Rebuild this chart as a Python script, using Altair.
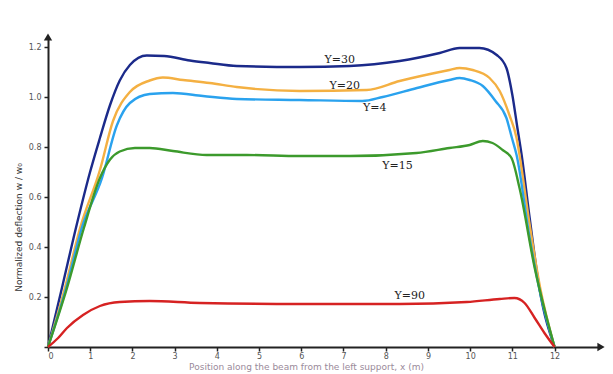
import altair as alt
import pandas as pd

# ---- data ----
series_names = ["Y=30", "Y=20", "Y=4", "Y=15", "Y=90"]
series_colors = ["#1b2a8a", "#f4b042", "#2aa2ee", "#3c9a2c", "#d62222"]

navy_x = [0, 0.33, 0.69, 0.99, 1.23, 1.47, 1.70, 1.94, 2.34, 2.75, 3.36, 3.83, 4.47, 5.96, 7.15, 8.33, 9.28, 9.75, 10.22, 10.63, 10.86, 11.0, 11.12, 11.22, 11.41, 11.64, 12]
navy_y = [0, 0.236, 0.496, 0.696, 0.836, 0.968, 1.066, 1.128, 1.166, 1.164, 1.146, 1.136, 1.124, 1.12, 1.124, 1.144, 1.176, 1.196, 1.196, 1.168, 1.116, 1.008, 0.876, 0.768, 0.516, 0.236, 0]

orange_x = [0, 0.40, 0.76, 1.23, 1.54, 1.94, 2.41, 2.72, 3.20, 3.83, 4.47, 5.96, 7.55, 8.33, 9.51, 9.75, 10.06, 10.46, 10.70, 10.93, 11.10, 11.17, 11.40, 11.66, 12]
orange_y = [0, 0.236, 0.476, 0.708, 0.904, 1.02, 1.066, 1.078, 1.068, 1.056, 1.04, 1.024, 1.028, 1.064, 1.108, 1.116, 1.108, 1.076, 1.024, 0.928, 0.836, 0.768, 0.50, 0.236, 0]

cyan_x = [0, 0.43, 0.80, 1.28, 1.63, 1.94, 2.41, 2.96, 3.67, 4.47, 5.96, 7.45, 7.93, 8.74, 9.51, 9.75, 9.99, 10.30, 10.60, 10.86, 10.99, 11.10, 11.41, 11.68, 12]
cyan_y = [0, 0.236, 0.476, 0.676, 0.886, 0.976, 1.012, 1.016, 1.004, 0.992, 0.988, 0.984, 1.0, 1.036, 1.068, 1.076, 1.068, 1.044, 0.984, 0.916, 0.836, 0.768, 0.436, 0.20, 0]

green_x = [0, 0.45, 0.85, 1.23, 1.47, 1.70, 2.06, 2.41, 2.96, 3.76, 4.71, 5.96, 7.15, 8.73, 9.51, 9.99, 10.30, 10.53, 10.77, 10.98, 11.17, 11.53, 12]
green_y = [0, 0.236, 0.476, 0.676, 0.750, 0.782, 0.796, 0.796, 0.784, 0.768, 0.768, 0.764, 0.764, 0.776, 0.796, 0.808, 0.824, 0.816, 0.788, 0.756, 0.636, 0.316, 0]

red_x = [0, 0.24, 0.45, 0.83, 1.23, 1.70, 2.41, 3.60, 5.96, 8.33, 9.92, 10.70, 11.05, 11.29, 11.53, 11.76, 12]
red_y = [0, 0.036, 0.076, 0.128, 0.164, 0.18, 0.184, 0.176, 0.172, 0.172, 0.18, 0.192, 0.196, 0.176, 0.116, 0.056, 0]

label_x = [6.91, 7.03, 7.74, 8.28, 8.57]
label_y = [1.15, 1.046, 0.955, 0.725, 0.205]

x_ticks = list(range(0, 13))
y_ticks = [round(0.1 * i, 1) for i in range(0, 13)]
x_end = 13.1
y_end = 1.24

x_title = "Position along the beam from the left support, x (m)"
y_title = "Normalized deflection w / w₀"

# ---- build table ----
all_x = [navy_x, orange_x, cyan_x, green_x, red_x]
all_y = [navy_y, orange_y, cyan_y, green_y, red_y]
rows = []
for name, xs, ys in zip(series_names, all_x, all_y):
    for i, (a, b) in enumerate(zip(xs, ys)):
        rows.append({"series": name, "x": a, "y": b, "order": i})
df = pd.DataFrame(rows)
labels_df = pd.DataFrame({"series": series_names, "x": label_x, "y": label_y})
arrow_df = pd.DataFrame({"x": [x_end, 0], "y": [0, y_end], "shape": ["triangle-right", "triangle-up"]})

xscale = alt.Scale(domain=[0, x_end], nice=False, zero=True)
yscale = alt.Scale(domain=[0, y_end], nice=False, zero=True)
color = alt.Scale(domain=series_names, range=series_colors)

xaxis = alt.Axis(values=x_ticks, title=x_title, titleColor="#9a8a9a", titleFontSize=9,
                 titleFontWeight="normal", titlePadding=2, titleX=258,
                 labelFontSize=8, labelColor="#555", tickSize=4, labelPadding=1)
yaxis = alt.Axis(values=y_ticks, title=y_title, titleFontSize=9, titleFontWeight="normal",
                 titleColor="#333", titlePadding=5, titleY=190,
                 labelExpr="round(datum.value*10) % 2 == 0 && datum.value > 0 ? format(datum.value, '.1f') : ''",
                 labelFontSize=8, labelColor="#555", tickSize=4, labelPadding=3)

lines = alt.Chart(df).mark_line(strokeWidth=2.4, interpolate="monotone").encode(
    x=alt.X("x:Q", scale=xscale, axis=xaxis),
    y=alt.Y("y:Q", scale=yscale, axis=yaxis),
    color=alt.Color("series:N", scale=color, legend=None),
    order="order:Q",
    detail="series:N",
)

texts = alt.Chart(labels_df).mark_text(font="DejaVu Serif", fontSize=11, color="#222").encode(
    x=alt.X("x:Q", scale=xscale),
    y=alt.Y("y:Q", scale=yscale),
    text="series:N",
)

arrows = alt.Chart(arrow_df).mark_point(filled=True, size=70, color="#222", opacity=1).encode(
    x=alt.X("x:Q", scale=xscale),
    y=alt.Y("y:Q", scale=yscale),
    shape=alt.Shape("shape:N", scale=None),
)

chart = alt.layer(lines, texts, arrows).properties(
    width=553, height=310,
    autosize=alt.AutoSizeParams(type="none"),
    padding={"left": 40, "top": 29, "right": 4, "bottom": 25},
).configure_view(stroke=None).configure_axis(
    grid=False, domainColor="#222", domainWidth=2, tickColor="#222", tickWidth=1.5,
    labelFont="DejaVu Sans", titleFont="DejaVu Sans",
)

chart.save("out.html", embed_options={"renderer": "svg", "actions": False})
